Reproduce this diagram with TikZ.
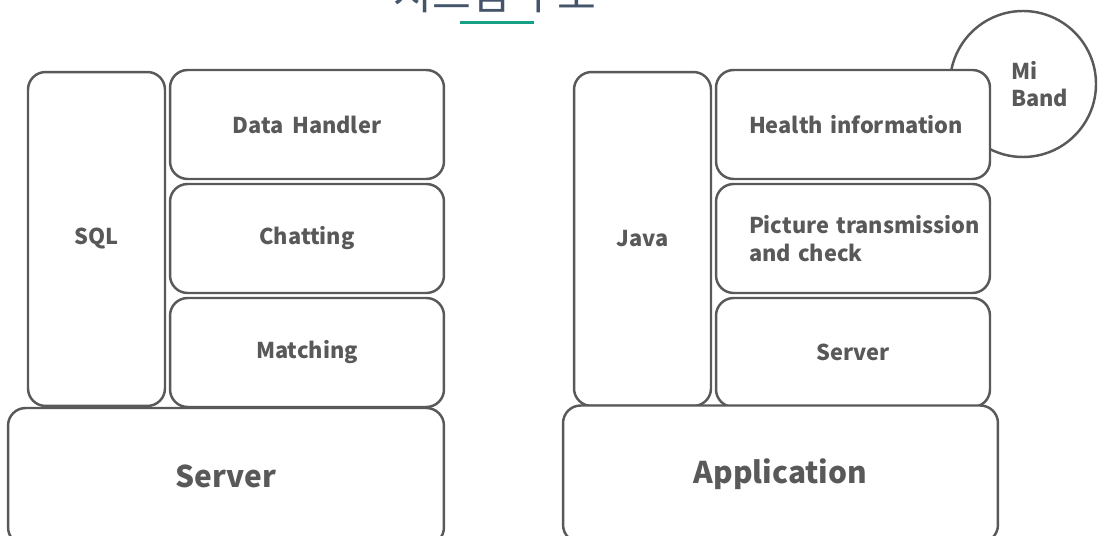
\documentclass[tikz,border=0pt]{standalone}
\usepackage{fontspec}
\setmainfont{Noto Sans CJK KR}[WordSpace=1.7]
\newfontfamily\korfont{Noto Sans CJK KR}
\usetikzlibrary{positioning}
\definecolor{boxgray}{HTML}{595959}
\definecolor{titleblue}{HTML}{44546A}
\definecolor{teal}{HTML}{16A085}
\newcommand\nohyph{\hyphenpenalty 10000\relax}

\begin{document}
\begin{tikzpicture}[x=0.02cm,y=-0.02cm,
  box/.style={draw=boxgray,line width=1.4pt,rounded corners=10pt,fill=white,text=boxgray,
    font=\bfseries\fontsize{12.4}{15.5}\selectfont\nohyph},
  small/.style={box,minimum width=5.48cm,minimum height=2.18cm},
  tall/.style={box,minimum width=2.74cm,minimum height=6.68cm},
  base/.style={box,minimum width=8.72cm,minimum height=2.74cm,font=\bfseries\fontsize{17}{21}\selectfont},
  leftbox/.style={small,align=left,text width=4.16cm,inner xsep=0.66cm}]
\useasboundingbox (0,0) rectangle (1098,536);

% title
\node[anchor=base,text=titleblue,font=\korfont\fontsize{24}{28}\selectfont] (title) at (495,10) {시스템 구조};
\draw[teal,line width=1.7pt] (460,23) -- (534,23);

% server side
\node[tall]  (sql)   at (96.5,239)  {SQL};
\node[small] (dh)    at (307,124.5) {Data Handler};
\node[small] (chat)  at (307,238.5) {Chatting};
\node[small] (match) at (307,352.5) {Matching};
\node[base]  (srv)   at (226,476.5) {Server};

% application side
\draw[boxgray,line width=1.4pt] (1023,84) circle (73);
\node[text=boxgray,align=left,anchor=west,font=\bfseries\fontsize{12.4}{15.5}\selectfont] (band) at (1005,84) {Mi\\Band};
\node[tall]  (java)   at (642.5,239)  {Java};
\node[leftbox] (health) at (853,124.5) {Health~information};
\node[leftbox] (pic)    at (853,238.5) {Picture~transmission\\and check};
\node[small] (asrv)   at (853,352.5)  {Server};
\node[base,minimum width=8.7cm] (app) at (780.5,474) {Application};
\end{tikzpicture}
\end{document}
